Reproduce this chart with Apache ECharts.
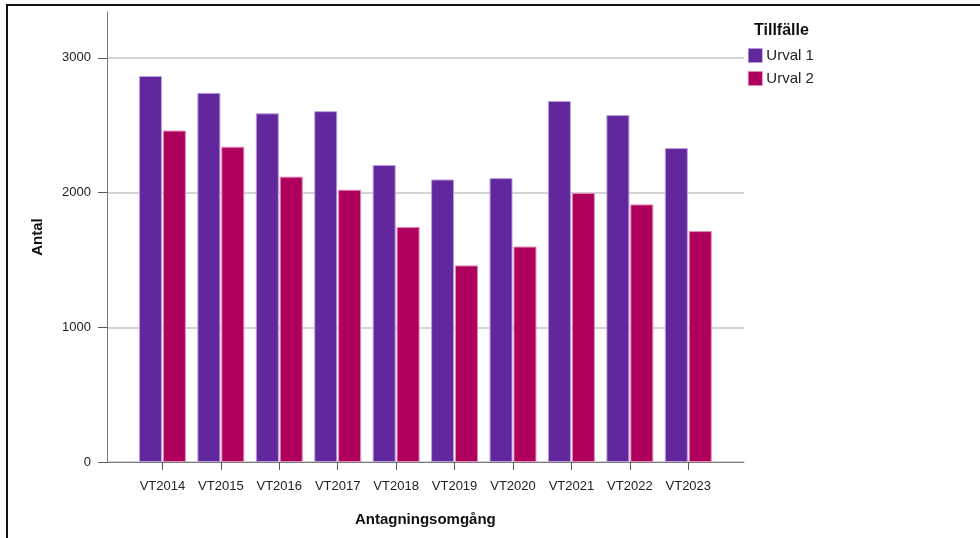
<!DOCTYPE html>
<html>
<head>
<meta charset="utf-8">
<script src="https://cdn.jsdelivr.net/npm/echarts@6/dist/echarts.min.js"></script>
<style>
  html, body { margin: 0; padding: 0; background: #fff; }
  #frame { position: absolute; left: 6px; top: 4px; width: 974px; height: 534px;
           border-top: 2px solid #111; border-left: 2px solid #111; box-sizing: border-box; }
  #chart { position: absolute; left: 0; top: 0; width: 980px; height: 538px; }
</style>
</head>
<body>
<div id="frame"></div>
<div id="chart"></div>
<script>
// Antal sökande per antagningsomgång, uppdelat på urval
const categories = ['VT2014', 'VT2015', 'VT2016', 'VT2017', 'VT2018', 'VT2019', 'VT2020', 'VT2021', 'VT2022', 'VT2023'];
const urval1 = [2865, 2740, 2588, 2604, 2205, 2097, 2107, 2680, 2575, 2330];
const urval2 = [2460, 2340, 2118, 2021, 1745, 1459, 1599, 1997, 1912, 1714];
const yTicks = [0, 1000, 2000, 3000];
const yMax = 3340;

const FONT = '"Liberation Sans", Arial, sans-serif';
const PURPLE = '#62279d';
const MAGENTA = '#ae005c';

const chart = echarts.init(document.getElementById('chart'), null, { renderer: 'canvas' });

chart.setOption({
  animation: false,
  textStyle: { fontFamily: FONT },
  title: {
    text: 'Tillfälle',
    left: 754, top: 23, padding: 0,
    textStyle: { fontFamily: FONT, fontSize: 16, fontWeight: 'bold', color: '#111' }
  },
  legend: {
    orient: 'vertical',
    left: 748, top: 48, padding: 0,
    itemWidth: 14, itemHeight: 14, itemGap: 8,
    icon: 'rect',
    itemStyle: { borderWidth: 0.6 },
    textStyle: { fontFamily: FONT, fontSize: 15, color: '#222', padding: [0, 0, 0, -1] },
    data: ['Urval 1', 'Urval 2']
  },
  grid: [
    // outer frame: y axis with values and the full-width x axis line
    { left: 107, right: 236, top: 12, bottom: 76 },
    // inner band holding the category bars
    { left: 133.2, right: 262.5, top: 12, bottom: 76 }
  ],
  xAxis: [
    {
      gridIndex: 0, type: 'value', min: 0, max: 1,
      axisLine: { show: true, onZero: false, lineStyle: { color: '#7a7a7a', width: 1 } },
      axisTick: { show: false }, axisLabel: { show: false }, splitLine: { show: false }
    },
    {
      gridIndex: 1, type: 'category', data: categories, boundaryGap: true,
      axisLine: { show: false },
      axisTick: { show: true, interval: 0, alignWithLabel: true, length: 8, lineStyle: { color: '#555' } },
      axisLabel: { interval: 0, hideOverlap: false, fontFamily: FONT, fontSize: 13, color: '#222', margin: 18 },
      name: 'Antagningsomgång', nameLocation: 'middle', nameGap: 50,
      nameTextStyle: { fontFamily: FONT, fontSize: 15, fontWeight: 'bold', color: '#111' }
    }
  ],
  yAxis: [
    {
      gridIndex: 0, type: 'value', min: 0, max: yMax,
      axisLine: { show: true, lineStyle: { color: '#7a7a7a', width: 1 } },
      axisTick: { show: true, length: 9, customValues: yTicks, lineStyle: { color: '#555' } },
      axisLabel: {
        fontFamily: FONT, fontSize: 13, color: '#222', margin: 16,
        customValues: yTicks, formatter: v => String(v)
      },
      splitLine: { show: true, lineStyle: { color: '#d4d4d4', width: 2 } },
      name: 'Antal', nameLocation: 'middle', nameGap: 62, nameRotate: 90,
      nameTextStyle: { fontFamily: FONT, fontSize: 15, fontWeight: 'bold', color: '#111' }
    },
    {
      gridIndex: 1, type: 'value', min: 0, max: yMax, show: false
    }
  ],
  series: [
    {
      name: 'Urval 1', type: 'bar', xAxisIndex: 1, yAxisIndex: 1,
      data: urval1, barWidth: 23, barGap: '4%',
      itemStyle: { color: PURPLE, borderColor: '#b9a0dc', borderWidth: 1 }
    },
    {
      name: 'Urval 2', type: 'bar', xAxisIndex: 1, yAxisIndex: 1,
      data: urval2, barWidth: 23,
      itemStyle: { color: MAGENTA, borderColor: '#e48ab8', borderWidth: 1 }
    }
  ]
});
</script>
</body>
</html>
